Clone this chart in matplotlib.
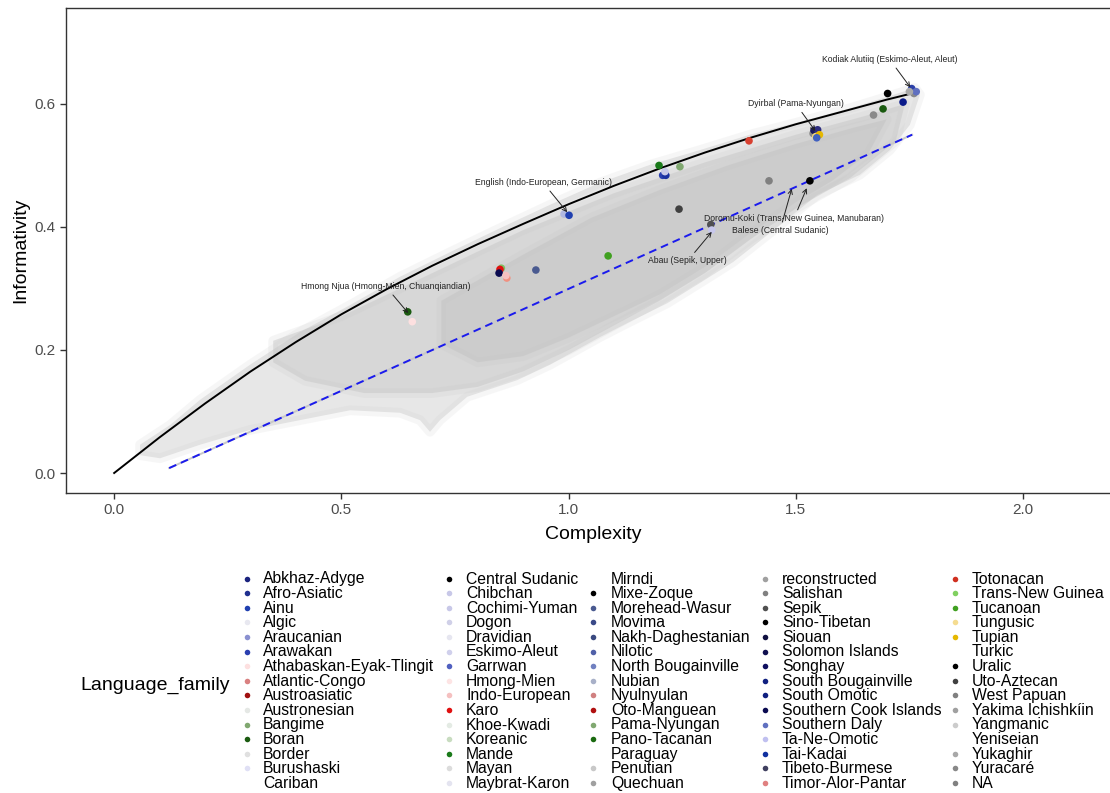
import matplotlib
matplotlib.use("Agg")
import matplotlib.pyplot as plt

plt.rcParams['font.family'] = ['Liberation Sans', 'DejaVu Sans']

# ---- frontier curve (black) and fitted line (blue dashed) ----
curve_x = [0, 0.1, 0.2, 0.3, 0.4, 0.5, 0.6, 0.7, 0.8, 0.9, 1.0, 1.1, 1.2, 1.3, 1.4, 1.5, 1.6, 1.7, 1.76]
curve_y = [0, 0.058, 0.113, 0.165, 0.213, 0.258, 0.299, 0.337, 0.372, 0.405, 0.437, 0.467, 0.495,
           0.521, 0.545, 0.567, 0.587, 0.607, 0.618]
fit_x = [0.121, 1.756]
fit_y = [0.008, 0.550]

# ---- grey cloud of simulated languages (outline) ----
cloud_outer_x = [0.057, 0.123, 0.189, 0.299, 0.409, 0.519, 0.629, 0.739, 0.849, 0.959, 1.069, 1.179,
                 1.289, 1.399, 1.509, 1.619, 1.707, 1.762, 1.773, 1.751, 1.707, 1.641, 1.547, 1.465,
                 1.362, 1.289, 1.217, 1.135, 1.069, 0.959, 0.887, 0.777, 0.717, 0.695, 0.673, 0.629,
                 0.519, 0.409, 0.299, 0.189, 0.101, 0.057]
cloud_outer_y = [0.046, 0.078, 0.119, 0.176, 0.229, 0.273, 0.319, 0.359, 0.398, 0.436, 0.472, 0.501,
                 0.525, 0.550, 0.571, 0.593, 0.613, 0.626, 0.615, 0.566, 0.525, 0.485, 0.452, 0.403,
                 0.343, 0.309, 0.276, 0.246, 0.221, 0.176, 0.151, 0.124, 0.086, 0.067, 0.086, 0.098,
                 0.102, 0.086, 0.070, 0.046, 0.024, 0.029]
cloud_mid_x = [0.35, 0.5, 0.7, 0.9, 1.1, 1.3, 1.5, 1.65, 1.74, 1.72, 1.62, 1.5, 1.4, 1.3, 1.2, 1.1,
               1.0, 0.9, 0.8, 0.7, 0.55, 0.42, 0.35]
cloud_mid_y = [0.215, 0.255, 0.325, 0.395, 0.455, 0.505, 0.55, 0.58, 0.60, 0.54, 0.48, 0.43, 0.38,
               0.325, 0.28, 0.24, 0.20, 0.165, 0.14, 0.13, 0.13, 0.15, 0.18]
cloud_core_x = [0.72, 0.9, 1.05, 1.2, 1.35, 1.5, 1.62, 1.7, 1.66, 1.58, 1.5, 1.4, 1.3, 1.2, 1.1, 1.0,
                0.9, 0.8, 0.72]
cloud_core_y = [0.28, 0.355, 0.415, 0.46, 0.50, 0.535, 0.56, 0.575, 0.52, 0.475, 0.44, 0.39, 0.335,
                0.29, 0.255, 0.22, 0.19, 0.18, 0.21]

# ---- real languages ----
lang_x = [1.755, 1.760, 1.765, 1.750, 1.702, 1.736, 1.692, 1.671, 1.397,
          1.538, 1.540, 1.548, 1.544, 1.552, 1.546,
          1.441, 1.531, 1.199, 1.245, 1.207, 1.214, 1.212, 1.243, 0.990, 1.001,
          1.313, 1.315, 1.087, 0.852, 0.849, 0.847, 0.864, 0.862, 0.928, 0.646, 0.656]
lang_y = [0.625, 0.617, 0.620, 0.620, 0.617, 0.603, 0.592, 0.582, 0.540,
          0.552, 0.557, 0.558, 0.547, 0.550, 0.545,
          0.475, 0.475, 0.500, 0.498, 0.484, 0.484, 0.490, 0.429, 0.421, 0.419,
          0.404, 0.395, 0.353, 0.333, 0.331, 0.325, 0.317, 0.321, 0.330, 0.262, 0.246]
lang_c = ['#2b3fa8', '#8a8a8a', '#6070c0', '#aaaaaa', '#000000', '#0a1a8a', '#1a5a10', '#8a8a8a', '#d84030',
          '#888888', '#1a1a5e', '#2d2d80', '#f5d77a', '#e6b800', '#4060c0',
          '#808080', '#000000', '#1a7a1a', '#80a870', '#2a3fb0', '#1a30a0', '#c8c8e8', '#404040', '#b0b8e0', '#2040b0',
          '#505050', '#c8c8ec', '#40a020', '#80c060', '#e01010', '#0a0a50', '#f09080', '#f5c0c0', '#4a5a90',
          '#1a5a10', '#fde0e0']

# ---- labelled languages ----
ann_text = ['Kodiak Alutiiq (Eskimo-Aleut, Aleut)', 'Dyirbal (Pama-Nyungan)',
            'English (Indo-European, Germanic)', 'Doromu-Koki (Trans-New Guinea, Manubaran)',
            'Balese (Central Sudanic)', 'Abau (Sepik, Upper)', 'Hmong Njua (Hmong-Mien, Chuanqiandian)']
ann_tx = [1.707, 1.500, 0.944, 1.496, 1.465, 1.262, 0.598]
ann_ty = [0.672, 0.600, 0.472, 0.414, 0.394, 0.345, 0.303]
ann_px = [1.752, 1.543, 0.997, 1.524, 1.491, 1.315, 0.647]
ann_py = [0.627, 0.556, 0.424, 0.463, 0.462, 0.392, 0.260]

# ---- legend ----
families = ['Abkhaz-Adyge', 'Afro-Asiatic', 'Ainu', 'Algic', 'Araucanian', 'Arawakan',
            'Athabaskan-Eyak-Tlingit', 'Atlantic-Congo', 'Austroasiatic', 'Austronesian', 'Bangime',
            'Boran', 'Border', 'Burushaski', 'Cariban',
            'Central Sudanic', 'Chibchan', 'Cochimi-Yuman', 'Dogon', 'Dravidian', 'Eskimo-Aleut',
            'Garrwan', 'Hmong-Mien', 'Indo-European', 'Karo', 'Khoe-Kwadi', 'Koreanic', 'Mande',
            'Mayan', 'Maybrat-Karon',
            'Mirndi', 'Mixe-Zoque', 'Morehead-Wasur', 'Movima', 'Nakh-Daghestanian', 'Nilotic',
            'North Bougainville', 'Nubian', 'Nyulnyulan', 'Oto-Manguean', 'Pama-Nyungan',
            'Pano-Tacanan', 'Paraguay', 'Penutian', 'Quechuan',
            'reconstructed', 'Salishan', 'Sepik', 'Sino-Tibetan', 'Siouan', 'Solomon Islands',
            'Songhay', 'South Bougainville', 'South Omotic', 'Southern Cook Islands', 'Southern Daly',
            'Ta-Ne-Omotic', 'Tai-Kadai', 'Tibeto-Burmese', 'Timor-Alor-Pantar',
            'Totonacan', 'Trans-New Guinea', 'Tucanoan', 'Tungusic', 'Tupian', 'Turkic', 'Uralic',
            'Uto-Aztecan', 'West Papuan', 'Yakima Ichishkíin', 'Yangmanic', 'Yeniseian', 'Yukaghir',
            'Yuracaré', 'NA']
family_colors = ['#1a237e', '#1f2f8f', '#2040b0', '#e8e8f0', '#8a90d0', '#2a3fb0', '#fde0e0', '#d98080',
                 '#a01010', '#e5e8e5', '#80a870', '#1a5a10', '#e0e0e0', '#e0e0f5', None,
                 '#000000', '#c8c8e8', '#c8c8e8', '#d0d0e8', '#e6e6f0', '#d0d0ec', '#5060c0', '#fde4e4',
                 '#f5c0c0', '#e01010', '#e4ebe4', '#c8dcc0', '#1a7a1a', '#dcdcdc', '#e4e4f0',
                 None, '#000000', '#4a5a90', '#3a4a88', '#3a4a80', '#5060a8', '#7080c0', '#a8b0c8',
                 '#d08080', '#b01010', '#80a870', '#1a6a10', None, '#c8c8c8', '#a0a0a0',
                 '#a0a0a0', '#808080', '#505050', '#000000', '#101040', '#101050', '#101060', '#102080',
                 '#102080', '#0a0a50', '#6070c0', '#c0c0f0', '#1030a0', '#404060', '#e08080',
                 '#d03020', '#80d060', '#40a020', '#f5dc90', '#e6b800', None, '#000000', '#404040',
                 '#808080', '#a0a0a0', '#cccccc', None, '#a8a8a8', '#888888', '#808080']

fig = plt.figure(figsize=(11.1, 7.93), dpi=100)
# the panel runs past the right edge of the picture, as in the original
ax = fig.add_axes([66 / 1110, 1 - 493 / 793, 1054 / 1110, 485 / 793])

# cloud: stacked translucent layers, soft edges
for xs, ys, a in [(cloud_outer_x, cloud_outer_y, 0.40),
                  (cloud_mid_x, cloud_mid_y, 0.45),
                  (cloud_core_x, cloud_core_y, 0.55)]:
    ax.fill(xs, ys, facecolor='none', edgecolor='#c4c4c4', lw=7, alpha=a * 0.35,
            joinstyle='round', zorder=1)
    ax.fill(xs, ys, color='#c4c4c4', lw=0, alpha=a, zorder=1)

ax.plot(curve_x, curve_y, color='black', lw=1.4, zorder=3)
ax.plot(fit_x, fit_y, color='#c8c8c8', lw=1.4, zorder=2)
ax.plot(fit_x, fit_y, color='#1a1aee', lw=1.4, ls=(0, (4, 2.6)), zorder=3)

ax.scatter(lang_x, lang_y, c=lang_c, s=30, lw=0, zorder=4)

for t, tx, ty, px, py in zip(ann_text, ann_tx, ann_ty, ann_px, ann_py):
    ax.annotate(t, xy=(px, py), xytext=(tx, ty), fontsize=6.2, color='#222222',
                ha='center', va='center', zorder=5,
                arrowprops=dict(arrowstyle='->,head_length=0.5,head_width=0.25', color='#222222',
                                lw=0.7, shrinkA=1, shrinkB=0))

ax.set_xlim(-0.106, 2.2134)
ax.set_ylim(-0.0325, 0.756)
ax.set_xticks([0.0, 0.5, 1.0, 1.5, 2.0])
ax.set_yticks([0.0, 0.2, 0.4, 0.6])
ax.set_xticklabels(['0.0', '0.5', '1.0', '1.5', '2.0'])
ax.set_yticklabels(['0.0', '0.2', '0.4', '0.6'])
ax.tick_params(colors='#333333', labelcolor='#4d4d4d', labelsize=11, length=4, width=1)
for s in ax.spines.values():
    s.set_color('#333333')
    s.set_linewidth(1)
ax.set_xlabel('Complexity', fontsize=14, labelpad=6)
ax.set_ylabel('Informativity', fontsize=14, labelpad=4)

# legend drawn in pixel coordinates
lg = fig.add_axes([0, 0, 1, 1], zorder=-1)
lg.set_xlim(0, 1110)
lg.set_ylim(793, 0)
lg.axis('off')
col_marker = [247, 449, 593, 765, 955]
col_text = [263, 466, 611, 782, 972]
for i, (name, col) in enumerate(zip(families, family_colors)):
    c, r = divmod(i, 15)
    yy = 578.5 + r * 14.6
    if col is not None:
        lg.scatter([col_marker[c]], [yy], s=16, color=col, lw=0)
    lg.text(col_text[c], yy + 0.5, name, fontsize=11.3, va='center', ha='left', color='black')
lg.text(80, 685, 'Language_family', fontsize=14, va='center', ha='left')

fig.savefig('out.png', dpi=100)
